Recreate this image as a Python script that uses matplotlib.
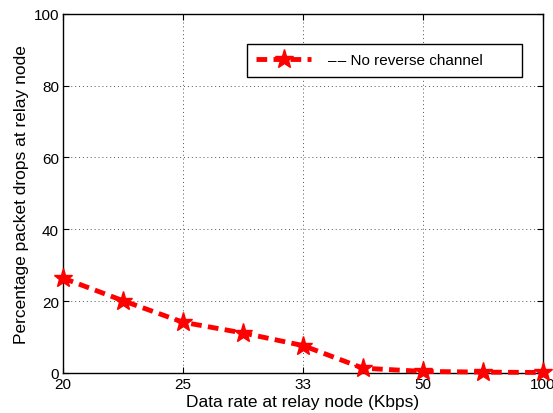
import matplotlib
matplotlib.use("Agg")
import matplotlib.pyplot as plt

plt.rcParams['font.family'] = ['Liberation Sans', 'DejaVu Sans']
plt.rcParams['font.size'] = 11

# data
tick_labels = ["20", "25", "33", "50", "100"]
x_pos = [0, 1, 2, 3, 4, 5, 6, 7, 8]
drops = [26.4, 20.1, 14.1, 11.1, 7.6, 1.3, 0.4, 0.2, 0.1]

fig = plt.figure(figsize=(5.53, 4.14), dpi=100)
ax = fig.add_axes([0.114, 0.097, 0.868, 0.867])

ax.plot(x_pos, drops, color='red', linestyle='--', linewidth=3.5,
        dashes=(2.2, 1.3), marker='*', markersize=14,
        label='–\u200a– No reverse channel', clip_on=False, zorder=5)

ax.set_xlim(0, 8)
ax.set_ylim(0, 100)
ax.set_xticks([0, 2, 4, 6, 8])
ax.set_xticklabels(tick_labels)
ax.set_yticks([0, 20, 40, 60, 80, 100])
ax.grid(True, linestyle=(0, (1, 3)), color='#555555', linewidth=0.7)
ax.tick_params(direction='in', length=4, top=True, right=True, pad=3)
for s in ax.spines.values():
    s.set_linewidth(1.0)

ax.set_xlabel("Data rate at relay node (Kbps)", fontsize=12.5, labelpad=2)
ax.set_ylabel("Percentage packet drops at relay node", fontsize=12.5, labelpad=3)

leg = ax.legend(loc='center left', bbox_to_anchor=(0.383, 0.830, 0.573, 0.081),
                mode='expand', fancybox=False, edgecolor='black', framealpha=1,
                handlelength=3.6, handletextpad=1.1, borderpad=0.6,
                borderaxespad=0, fontsize=11)
leg.get_frame().set_linewidth(1.0)

fig.savefig("out.png", dpi=100)
